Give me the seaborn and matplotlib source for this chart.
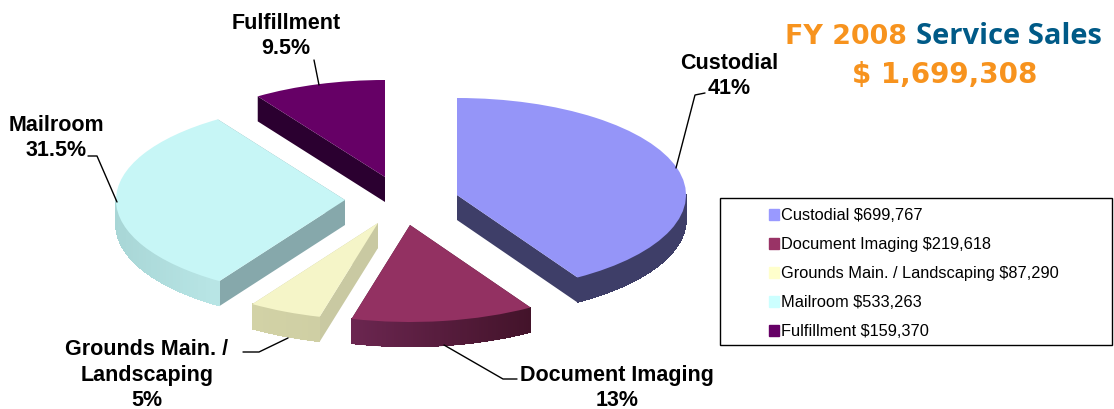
"""FY 2008 service sales, exploded pie with a drawn-on depth."""

import matplotlib
import numpy as np
import seaborn as sns

matplotlib.use("Agg")
import matplotlib.pyplot as plt
from matplotlib.collections import PolyCollection
from matplotlib.colors import to_rgb
from matplotlib.lines import Line2D
from matplotlib.patches import Patch, Polygon, Rectangle

# Data
services = ["Custodial", "Document Imaging", "Grounds Main. / Landscaping", "Mailroom", "Fulfillment"]
sales = [699767, 219618, 87290, 533263, 159370]
sales_text = ["$699,767", "$219,618", "$87,290", "$533,263", "$159,370"]

# Styles
W, H = 1114, 409
RX, RY = 229, 97  # ellipse semi axes in pixels
DEPTH = 25
APEX = [(457, 195), (410, 225), (378, 223), (345, 200), (385, 177)]
TOP_COLORS = ["#9595f8", "#933162", "#f5f5c8", "#c7f6f6", "#660066"]
LEGEND_COLORS = ["#9999ff", "#993366", "#ffffcc", "#ccffff", "#660066"]
CUT_COLORS = ["#3e3e68", "#4c1730", "#c9c9a2", "#86a8ab", "#2b0030"]
RIM_LEFT = ["#3e3e68", "#6b2650", "#d2d2a6", "#a8d6d6", "#2b0030"]
RIM_RIGHT = ["#3e3e68", "#43132a", "#cfcfa4", "#b9e6e6", "#2b0030"]


def figure_xy(x, y):
    return x / W, 1 - y / H


def add_label(fig, x, y, text):
    fx, fy = figure_xy(x, y)
    fig.text(fx, fy, text, ha="center", va="center", fontsize=15.5, fontweight="bold",
             linespacing=1.27, color="black")


def add_leader(fig, points):
    xs, ys = zip(*[figure_xy(x, y) for x, y in points])
    fig.add_artist(Line2D(xs, ys, color="black", lw=1, transform=fig.transFigure, zorder=5))


def add_depth(ax, wedge, cut_color, left_color, right_color):
    """Side walls of one slice, worked out from the wedge the pie made."""
    cx, cy = wedge.center
    dy = DEPTH / RY
    theta = np.radians(np.linspace(wedge.theta1, wedge.theta2, 90))

    walls = []
    for a in (theta[0], theta[-1]):
        # a wall straight up from the apex has no width, and would only leave a hairline
        if abs(np.cos(a)) < 1e-6:
            continue
        ex, ey = cx + np.cos(a), cy + np.sin(a)
        walls.append([(cx, cy), (ex, ey), (ex, ey - dy), (cx, cy - dy)])
    ax.add_collection(PolyCollection(walls, facecolors=cut_color, edgecolors="none", zorder=1))

    # only the front half of the arc can be seen
    theta = theta[np.sin(theta) < 0.02]
    if len(theta) < 2:
        return
    xs = cx + np.cos(theta)
    ys = cy + np.sin(theta)

    left, right = np.array(to_rgb(left_color)), np.array(to_rgb(right_color))
    # smooth outline under the shaded strips, keeps the lower edge free of steps
    outline = np.vstack([np.column_stack([xs, ys]), np.column_stack([xs[::-1], ys[::-1] - dy])])
    ax.add_patch(Polygon(outline, closed=True, facecolor=(left + right) / 2, edgecolor="none", zorder=2))

    span = max(xs.max() - xs.min(), 1e-6)
    quads, shades = [], []
    inset = 0.6 / RY
    for i in range(len(theta) - 1):
        quads.append([(xs[i], ys[i]), (xs[i + 1], ys[i + 1]),
                      (xs[i + 1], ys[i + 1] - dy + inset), (xs[i], ys[i] - dy + inset)])
        shades.append(left + (right - left) * (xs[i] - xs.min()) / span)
    ax.add_collection(PolyCollection(quads, facecolors=shades, edgecolors=shades, linewidths=0.5,
                                     antialiaseds=False, zorder=2.5))


def main():
    sns.set_theme(style="white")
    plt.rcParams["font.family"] = ["Liberation Sans", "DejaVu Sans"]

    fig = plt.figure(figsize=(W / 100, H / 100), dpi=100)
    ax = fig.add_axes([0, 0, 1, 1])

    wedges, _ = ax.pie(sales, colors=sns.color_palette(TOP_COLORS), startangle=90,
                       counterclock=False, radius=1, wedgeprops={"linewidth": 0, "zorder": 3})
    ax.set_aspect("auto")
    ax.set_xlim(0, W / RX)
    ax.set_ylim(-H / RY, 0)
    ax.axis("off")

    for i, wedge in enumerate(wedges):
        wedge.set_center((APEX[i][0] / RX, -APEX[i][1] / RY))
        add_depth(ax, wedge, CUT_COLORS[i], RIM_LEFT[i], RIM_RIGHT[i])

    add_label(fig, 729, 76, "Custodial\n41%")
    add_label(fig, 286, 36, "Fulfillment\n9.5%")
    add_label(fig, 56, 138, "Mailroom\n31.5%")
    add_label(fig, 147, 375, "Grounds Main. /\nLandscaping\n5%")
    add_label(fig, 617, 388, "Document Imaging\n13%")

    add_leader(fig, [(676, 168), (695, 95), (705, 93)])
    add_leader(fig, [(314, 60), (319, 85)])
    add_leader(fig, [(117, 202), (97, 156), (88, 156)])
    add_leader(fig, [(288, 338), (259, 352), (243, 352)])
    add_leader(fig, [(444, 345), (503, 379), (517, 379)])

    # Legend box is larger than its entries, so the frame is separate
    bx, by = figure_xy(720, 345)
    fig.add_artist(Rectangle((bx, by), 392 / W, 147 / H, transform=fig.transFigure,
                             facecolor="white", edgecolor="black", lw=1, zorder=4))
    handles = [Patch(color=c) for c in LEGEND_COLORS]
    labels = [f"{name} {value}" for name, value in zip(services, sales_text)]
    legend = fig.legend(handles, labels, loc="upper left", bbox_to_anchor=figure_xy(769, 208),
                        frameon=False, fontsize=11.8, handlelength=0.62, handleheight=0.62,
                        handletextpad=0.13, labelspacing=0.86, borderpad=0, borderaxespad=0,
                        labelcolor="black")
    legend.set_zorder(6)

    orange = {"family": "DejaVu Sans", "fontweight": "bold", "fontsize": 19.4, "color": "#f7931e", "va": "center"}
    fig.text(*figure_xy(785, 37), "FY 2008", ha="left", **orange)
    fig.text(*figure_xy(916, 37), "Service Sales", color="#005a87", ha="left", va="center",
             family="Open Sans", fontweight="bold", fontsize=21)
    fig.text(*figure_xy(945, 75), "$ 1,699,308", ha="center", **{**orange, "fontsize": 20})

    fig.savefig("out.png", dpi=100, facecolor="white")
    plt.close(fig)


if __name__ == "__main__":
    main()
